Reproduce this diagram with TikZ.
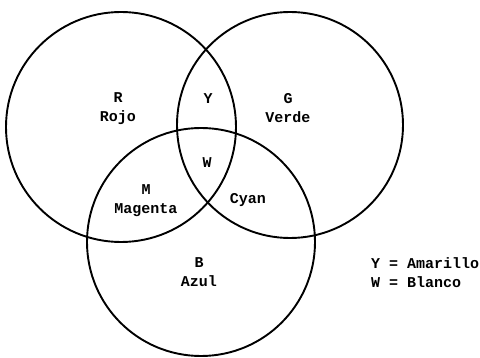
\documentclass[tikz,border=0pt]{standalone}
\usepackage{fontspec}
\setmonofont{Liberation Mono}
\usepackage{tikz}
\usetikzlibrary{positioning}

\begin{document}
\begin{tikzpicture}[
  x=1pt, y=-1pt,
  every node/.style={font=\ttfamily\bfseries\fontsize{15}{19}\selectfont},
  ring/.style={draw, circle, line width=1.9pt, inner sep=0pt},
  lbl/.style={align=center, inner sep=1pt}
]
\useasboundingbox (0,0) rectangle (480,358);
% the three primaries
\node[ring, minimum size=230pt] (rojo) at (121,127) {};
\node[ring, minimum size=226pt] (verde) at (290,125) {};
\node[ring, minimum size=228pt] (azul) at (201,242) {};

% region labels
\node[lbl] (rtxt) at (118,108.5) {R\\Rojo};
\node[lbl] (gtxt) at (288,108) {G\\Verde};
\node[lbl] (btxt) at (199,272.5) {B\\Azul};
\node[lbl] (ytxt) at (208,99) {Y};
\node[lbl] (wtxt) at (207,163) {W};
\node[lbl] (mtxt) at (146,200.5) {M\\Magenta};
\node[lbl] (ctxt) at (248,200) {Cyan};

% legend
\node[lbl, align=left, anchor=west] (legend) at (370,272.5) {Y = Amarillo\\W = Blanco};
\end{tikzpicture}
\end{document}
